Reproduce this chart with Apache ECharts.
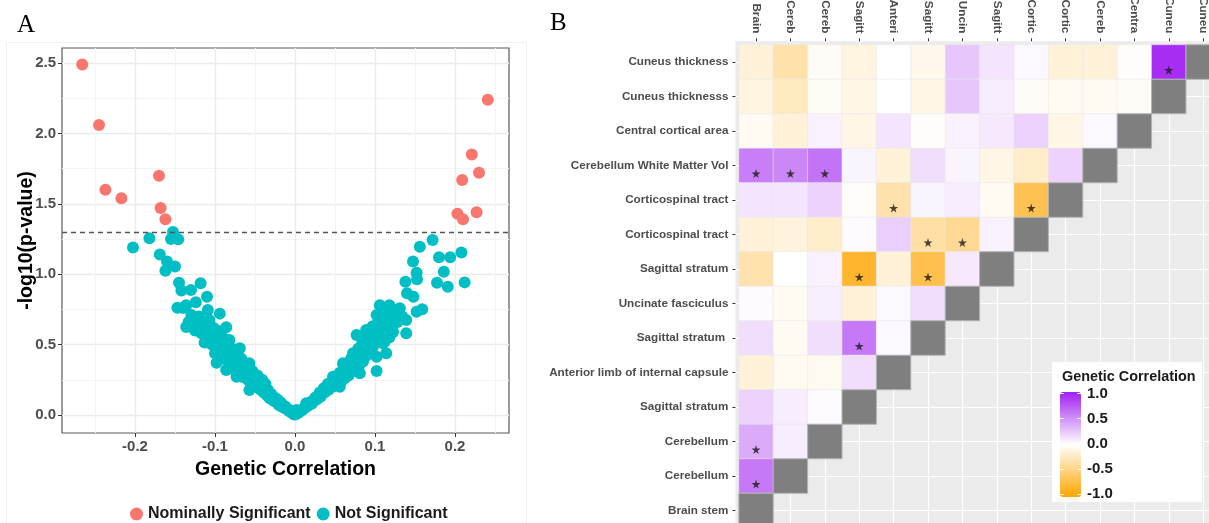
<!DOCTYPE html>
<html><head><meta charset="utf-8">
<script src="https://cdn.jsdelivr.net/npm/echarts@6/dist/echarts.min.js"></script>
<style>html,body{margin:0;padding:0;background:#fff}#c{width:1209px;height:523px}</style>
</head><body><div id="c"></div>
<script>
// ---------- Panel A data ----------
const sigPoints = [
  [-0.266,2.49],[-0.245,2.06],[-0.237,1.60],[-0.217,1.54],[-0.170,1.70],[-0.168,1.47],[-0.162,1.39],
  [0.241,2.24],[0.221,1.85],[0.230,1.72],[0.209,1.67],[0.203,1.43],[0.210,1.39],[0.227,1.44]
];
const nsPoints = [
  [-0.2025,1.19],[-0.182,1.255],[-0.1525,1.30],[-0.155,1.25],[-0.146,1.248],[-0.169,1.14],[-0.16,1.09],
  [-0.150,1.055],[-0.162,1.025],[-0.145,0.94],[-0.142,0.885],[-0.130,0.888],[-0.118,0.935],[-0.110,0.84],
  [-0.147,0.762],[-0.136,0.78],[-0.124,0.80],[-0.1295,0.71],[-0.109,0.745],[-0.094,0.72],[-0.136,0.625],
  [-0.121,0.627],[-0.113,0.515],[-0.107,0.675],[-0.098,0.58],[-0.086,0.623],[-0.082,0.533],[-0.100,0.438],
  [-0.098,0.371],[-0.086,0.32],[-0.069,0.474],[-0.073,0.272],[-0.057,0.367],[-0.057,0.178],[-0.044,0.249],
  [-0.032,0.154],[-0.019,0.083],[-0.0066,0.036],[-0.14,0.76],[-0.133,0.66],
  [-0.128,0.68],[-0.125,0.6],[-0.12,0.7],[-0.117,0.58],[-0.115,0.65],[-0.112,0.6],[-0.11,0.55],[-0.108,0.63],
  [-0.105,0.58],[-0.104,0.5],[-0.102,0.62],[-0.1,0.55],[-0.099,0.47],[-0.097,0.6],[-0.095,0.52],[-0.094,0.43],
  [-0.092,0.56],[-0.09,0.48],[-0.089,0.4],[-0.088,0.54],[-0.086,0.45],[-0.085,0.5],[-0.083,0.38],[-0.082,0.46],
  [-0.08,0.42],[-0.079,0.35],[-0.078,0.47],[-0.076,0.4],[-0.075,0.32],[-0.074,0.44],[-0.072,0.36],[-0.07,0.41],
  [-0.069,0.3],[-0.068,0.38],[-0.066,0.33],[-0.065,0.27],[-0.064,0.36],[-0.062,0.3],[-0.06,0.34],[-0.059,0.25],
  [-0.058,0.31],[-0.056,0.28],[-0.055,0.22],[-0.054,0.3],[-0.052,0.25],[-0.05,0.27],[-0.049,0.2],[-0.048,0.24],
  [-0.046,0.21],[-0.045,0.25],[-0.043,0.18],[-0.042,0.22],[-0.04,0.19],[-0.039,0.16],[-0.038,0.2],[-0.036,0.17],
  [-0.035,0.14],[-0.034,0.18],[-0.032,0.12],[-0.03,0.15],[-0.029,0.11],[-0.028,0.13],[-0.026,0.1],[-0.025,0.12],
  [-0.023,0.09],[-0.022,0.11],[-0.02,0.07],[-0.018,0.09],[-0.017,0.06],[-0.015,0.07],[-0.013,0.05],[-0.012,0.06],
  [-0.01,0.04],[-0.008,0.03],[-0.006,0.025],[-0.004,0.015],[-0.002,0.008],[-0.001,0.004],
  [-0.053,0.31],[-0.047,0.28],[-0.061,0.36],[-0.067,0.4],[-0.041,0.25],[-0.037,0.22],
  [0.172,1.243],[0.156,1.195],[0.1475,1.09],[0.152,1.01],[0.1525,0.964],[0.138,0.947],[0.140,0.864],[0.148,0.84],
  [0.159,0.751],[0.152,0.734],[0.139,0.58],[0.102,0.3125],[0.180,1.12],[0.194,1.12],[0.208,1.155],[0.186,1.018],
  [0.1775,0.94],[0.191,0.911],[0.212,0.942],[0.139,0.675],
  [0.106,0.78],[0.118,0.78],[0.131,0.758],[0.102,0.71],[0.1225,0.59],[0.077,0.568],[0.089,0.604],[0.0975,0.485],
  [0.110,0.509],[0.114,0.438],[0.102,0.414],[0.081,0.296],[0.06,0.367],[0.0725,0.438],[0.0475,0.272],[0.043,0.201],
  [0.056,0.201],[0.035,0.178],[0.027,0.13],[0.014,0.083],[0.002,0.036],
  [0.134,0.7],[0.128,0.66],[0.122,0.63],[0.118,0.55],[0.112,0.52],
  [0.125,0.74],[0.12,0.7],[0.116,0.66],[0.113,0.72],[0.11,0.62],[0.108,0.68],[0.105,0.58],[0.104,0.65],[0.1,0.6],
  [0.099,0.54],[0.097,0.63],[0.095,0.5],[0.094,0.57],[0.092,0.46],[0.09,0.53],[0.089,0.42],[0.088,0.56],[0.086,0.48],
  [0.085,0.38],[0.084,0.51],[0.082,0.44],[0.08,0.35],[0.079,0.47],[0.077,0.4],[0.076,0.33],[0.075,0.43],[0.073,0.37],
  [0.071,0.31],[0.07,0.4],[0.068,0.34],[0.067,0.28],[0.066,0.36],[0.064,0.31],[0.062,0.26],[0.061,0.33],[0.059,0.28],
  [0.058,0.24],[0.056,0.3],[0.054,0.25],[0.052,0.22],[0.051,0.27],[0.049,0.23],[0.047,0.2],[0.046,0.24],[0.044,0.21],
  [0.042,0.18],[0.041,0.22],[0.039,0.19],[0.037,0.16],[0.036,0.19],[0.034,0.15],[0.032,0.13],[0.031,0.16],[0.029,0.13],
  [0.027,0.11],[0.025,0.12],[0.023,0.1],[0.021,0.08],[0.019,0.09],[0.017,0.07],[0.015,0.06],[0.013,0.055],[0.011,0.045],
  [0.009,0.035],[0.007,0.03],[0.005,0.02],[0.003,0.012],[0.001,0.005]
];
const xTickValues = [-0.2, -0.1, 0, 0.1, 0.2];
const xMinorValues = [-0.25, -0.15, -0.05, 0.05, 0.15, 0.25];
const yTickValues = [0, 0.5, 1, 1.5, 2, 2.5];
const yMinorValues = [0.25, 0.75, 1.25, 1.75, 2.25];
const threshold = 1.30103;

// ---------- Panel B data ----------
const rowNames = ['Cuneus thickness','Cuneus thicknesss','Central cortical area','Cerebellum White Matter Vol',
  'Corticospinal tract','Corticospinal tract','Sagittal stratum','Uncinate fasciculus','Sagittal stratum ',
  'Anterior limb of internal capsule','Sagittal stratum','Cerebellum','Cerebellum','Brain stem'];
const colNames = ['Brain','Cereb','Cereb','Sagitt','Anteri','Sagitt','Uncin','Sagitt','Cortic','Cortic','Cereb','Centra','Cuneu','Cuneu'];
const corrRows = [
  [-0.15,-0.33,-0.03,-0.12,0.0,-0.08,0.25,0.12,0.03,-0.15,-0.15,-0.02,0.94],
  [-0.12,-0.25,-0.04,-0.1,0.0,-0.1,0.25,0.08,-0.03,-0.05,-0.05,-0.03],
  [-0.05,-0.15,0.06,-0.1,0.12,-0.02,0.06,0.1,0.2,-0.1,0.03],
  [0.58,0.54,0.63,0.05,-0.15,0.15,0.05,-0.1,-0.2,0.2],
  [0.12,0.12,0.2,-0.02,-0.33,0.05,0.08,-0.05,-0.68],
  [-0.15,-0.13,-0.2,0.02,0.22,-0.36,-0.42,0.06],
  [-0.32,0.0,0.06,-0.82,-0.15,-0.7,0.1],
  [0.02,-0.05,0.07,-0.15,0.03,0.15],
  [0.15,-0.05,0.15,0.6,0.03],
  [-0.15,-0.06,-0.06,0.15],
  [0.2,0.08,0.02],
  [0.38,0.08],
  [0.6],
  []
];
const sigCells = [[12,0],[0,3],[1,3],[2,3],[4,4],[8,4],[5,5],[6,5],[3,6],[5,6],[3,8],[0,11],[0,12]];
const legendTicks = [1, 0.5, 0, -0.5, -1];

// ---------- build ----------
const cellData = [];
corrRows.forEach((row, r) => row.forEach((v, c) => cellData.push([c, r, v])));
const diagData = rowNames.map((_, r) => [rowNames.length - 1 - r, r]);
const idx = rowNames.map((_, i) => i);
const FONT = 'Liberation Sans';
const STAR = 'path://M50,0 L61,35 L98,35 L68,57 L79,91 L50,70 L21,91 L32,57 L2,35 L39,35 Z';

function cellRender(fill, stroke, lw) {
  return function (params, api) {
    const x = api.value(0), y = api.value(1);
    const p0 = api.coord([x - 0.5, y - 0.5]);
    const p1 = api.coord([x + 0.5, y + 0.5]);
    return {
      type: 'rect',
      shape: { x: Math.min(p0[0], p1[0]), y: Math.min(p0[1], p1[1]), width: Math.abs(p1[0] - p0[0]), height: Math.abs(p1[1] - p0[1]) },
      style: { fill: fill || api.visual('color'), stroke: stroke, lineWidth: lw }
    };
  };
}

const chart = echarts.init(document.getElementById('c'), null, { renderer: 'canvas' });
chart.setOption({
  animation: false,
  textStyle: { fontFamily: FONT },
  title: [
    { text: 'A', left: 12, top: 8, textStyle: { fontFamily: 'Liberation Serif', fontWeight: 'normal', fontSize: 25, color: '#000' } },
    { text: 'B', left: 545, top: 6, textStyle: { fontFamily: 'Liberation Serif', fontWeight: 'normal', fontSize: 25, color: '#000' } },
    { text: 'Genetic Correlation', left: 1057, top: 365, z: 8, textStyle: { fontFamily: FONT, fontWeight: 'bold', fontSize: 14.4, color: '#1a1a1a' } }
  ],
  graphic: [
    { type: 'rect', left: 4, top: 40, shape: { width: 520, height: 482 }, style: { fill: 'none', stroke: '#F0F0F0', lineWidth: 1 }, z: -1 },
    { type: 'rect', left: 1052, top: 362, shape: { width: 150, height: 140 }, style: { fill: '#fff' }, z: 5 }
  ],
  legend: {
    data: ['Nominally Significant', 'Not Significant'],
    left: 125, top: 501, icon: 'circle', itemWidth: 13, itemHeight: 13, itemGap: 6,
    textStyle: { fontFamily: FONT, fontWeight: 'bold', fontSize: 16, color: '#1a1a1a' }
  },
  grid: [
    { left: 62, top: 48, width: 447, height: 385, show: true, backgroundColor: '#fff', borderColor: '#595959', borderWidth: 1.2, outerBoundsMode: 'none', containLabel: false },
    { left: 735.4, top: 41.3, width: 488.4, height: 489.9, show: true, backgroundColor: '#EBEBEB', borderWidth: 0, outerBoundsMode: 'none', containLabel: false },
    { left: 1060, top: 393.5, width: 21, height: 100.5, show: false, outerBoundsMode: 'none', containLabel: false }
  ],
  xAxis: [
    { gridIndex: 0, type: 'value', min: -0.29125, max: 0.2675, position: 'bottom',
      axisLine: { show: false, onZero: false },
      axisTick: { show: true, customValues: xTickValues, length: 4, lineStyle: { color: '#333' } },
      axisLabel: { customValues: xTickValues, formatter: v => v.toFixed(1), fontWeight: 'bold', fontSize: 15, color: '#4D4D4D', margin: 6, fontFamily: FONT },
      splitLine: { show: true, lineStyle: { color: '#EBEBEB', width: 1.3 } },
      name: 'Genetic Correlation', nameLocation: 'middle', nameGap: 27,
      nameTextStyle: { fontWeight: 'bold', fontSize: 19.5, color: '#000', fontFamily: FONT } },
    { gridIndex: 0, type: 'value', min: -0.29125, max: 0.2675, position: 'bottom',
      axisLine: { show: false, onZero: false }, axisLabel: { show: false },
      axisTick: { show: false, customValues: xMinorValues },
      splitLine: { show: true, lineStyle: { color: '#F4F4F4', width: 1 } } },
    { gridIndex: 1, type: 'value', min: -0.6, max: 13.6, position: 'top',
      axisLine: { show: false, onZero: false },
      axisTick: { show: true, customValues: idx, length: 3, lineStyle: { color: '#333' } },
      axisLabel: { customValues: idx, formatter: v => colNames[Math.round(v)], rotate: 90, fontWeight: 'bold', fontSize: 11.7, color: '#4D4D4D', margin: 8, fontFamily: FONT },
      splitLine: { show: true, lineStyle: { color: '#FFFFFF', width: 1.2 } } },
    { gridIndex: 2, type: 'value', min: 0, max: 1, show: false, axisLine: { onZero: false } }
  ],
  yAxis: [
    { gridIndex: 0, type: 'value', min: -0.128, max: 2.607, position: 'left',
      axisLine: { show: false, onZero: false },
      axisTick: { show: true, customValues: yTickValues, length: 4, lineStyle: { color: '#333' } },
      axisLabel: { customValues: yTickValues, formatter: v => v.toFixed(1), fontWeight: 'bold', fontSize: 15, color: '#4D4D4D', margin: 6, fontFamily: FONT },
      splitLine: { show: true, lineStyle: { color: '#EBEBEB', width: 1.3 } },
      name: '-log10(p-value)', nameLocation: 'middle', nameGap: 25, nameRotate: 90, nameMoveOverlap: false,
      nameTextStyle: { fontWeight: 'bold', fontSize: 19.5, color: '#000', fontFamily: FONT } },
    { gridIndex: 0, type: 'value', min: -0.128, max: 2.607, position: 'left',
      axisLine: { show: false, onZero: false }, axisLabel: { show: false },
      axisTick: { show: false, customValues: yMinorValues },
      splitLine: { show: true, lineStyle: { color: '#F4F4F4', width: 1 } } },
    { gridIndex: 1, type: 'value', min: -0.6, max: 13.6, inverse: true, position: 'left',
      axisLine: { show: false, onZero: false },
      axisTick: { show: true, customValues: idx, length: 3, lineStyle: { color: '#333' } },
      axisLabel: { customValues: idx, formatter: v => rowNames[Math.round(v)], fontWeight: 'bold', fontSize: 11.7, color: '#4D4D4D', margin: 7, fontFamily: FONT },
      splitLine: { show: true, lineStyle: { color: '#FFFFFF', width: 1.2 } } },
    { gridIndex: 2, type: 'value', min: -1, max: 1, position: 'right', z: 10,
      axisLine: { show: false, onZero: false },
      axisTick: { show: true, inside: true, customValues: legendTicks, length: 4, lineStyle: { color: '#FFFFFF', width: 1 } },
      axisLabel: { customValues: legendTicks, formatter: v => v.toFixed(1), fontWeight: 'bold', fontSize: 15, color: '#1a1a1a', margin: 6, fontFamily: FONT },
      splitLine: { show: false } },
    { gridIndex: 2, type: 'value', min: -1, max: 1, position: 'left', z: 10,
      axisLine: { show: false, onZero: false }, axisLabel: { show: false },
      axisTick: { show: true, inside: true, customValues: legendTicks, length: 4, lineStyle: { color: '#FFFFFF', width: 1 } },
      splitLine: { show: false } }
  ],
  visualMap: {
    type: 'continuous', min: -1, max: 1, seriesIndex: [2], dimension: 2,
    inRange: { color: ['#FFA500', '#FFFFFF', '#A020F0'] },
    left: 1060, top: 392, itemWidth: 21, itemHeight: 105, padding: 0,
    calculable: false, orient: 'vertical', z: 6, hoverLink: false
  },
  series: [
    { name: 'Nominally Significant', type: 'scatter', xAxisIndex: 0, yAxisIndex: 0, data: sigPoints,
      symbolSize: 12, itemStyle: { color: '#F8766D', opacity: 1 }, z: 3 },
    { name: 'Not Significant', type: 'scatter', xAxisIndex: 0, yAxisIndex: 0, data: nsPoints,
      symbolSize: 12, itemStyle: { color: '#00BFC4', opacity: 1 }, z: 2,
      markLine: { silent: true, symbol: ['none', 'none'], label: { show: false },
        lineStyle: { type: [5, 4], color: '#555', width: 1.3 }, data: [{ yAxis: threshold }] } },
    { name: 'cells', type: 'custom', xAxisIndex: 2, yAxisIndex: 2, data: cellData,
      encode: { x: 0, y: 1 }, renderItem: cellRender(null, '#E8E8E8', 0.4), z: 2 },
    { name: 'diag', type: 'custom', xAxisIndex: 2, yAxisIndex: 2, data: diagData,
      encode: { x: 0, y: 1 }, renderItem: cellRender('#7F7F7F', '#B3B3B3', 1), z: 2 },
    { name: 'stars', type: 'scatter', xAxisIndex: 2, yAxisIndex: 2, data: sigCells,
      symbol: STAR, symbolSize: 9, symbolOffset: [0, 8], itemStyle: { color: '#1a1a1a' }, z: 4 }
  ]
});
</script>
</body></html>
